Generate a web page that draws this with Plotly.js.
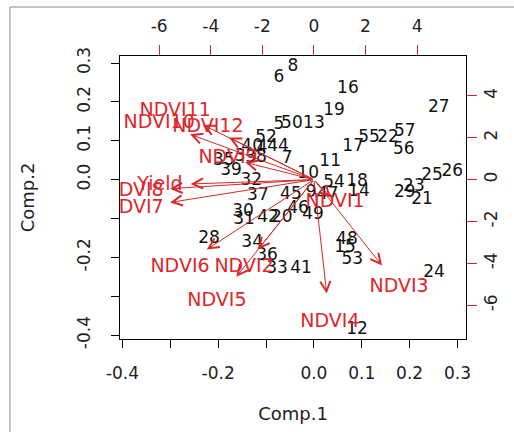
<!DOCTYPE html>
<html>
<head>
<meta charset="utf-8">
<script src="https://cdn.plot.ly/plotly-3.0.1.min.js"></script>
<style>
  html, body { margin: 0; padding: 0; background: #fff; }
  #chart { width: 514px; height: 432px; }
</style>
</head>
<body>
<div id="chart"></div>
<script>
// ---- observation scores (Comp.1, Comp.2) ----
const obsLabels = ["6","8","16","19","27","5","50","13","55","22","57","56","17","11","26","25","54","18","14","23","29","21","24","48","15","53","12","41","33","36","34","28","30","31","42","20","46","49","37","45","9","47","32","10","39","7","35","3","38","40","44","52","4"];
const comp1 = [-0.073,-0.044,0.071,0.042,0.261,-0.073,-0.046,0.000,0.115,0.155,0.190,0.188,0.082,0.034,0.289,0.247,0.042,0.090,0.094,0.209,0.190,0.226,0.251,0.069,0.065,0.080,0.090,-0.027,-0.077,-0.098,-0.129,-0.219,-0.148,-0.146,-0.096,-0.067,-0.033,-0.002,-0.117,-0.048,-0.006,0.029,-0.131,-0.012,-0.173,-0.056,-0.188,-0.154,-0.121,-0.129,-0.075,-0.100,-0.108];
const comp2 = [0.262,0.290,0.234,0.177,0.184,0.141,0.143,0.143,0.107,0.107,0.123,0.076,0.084,0.045,0.020,0.009,-0.009,-0.006,-0.032,-0.019,-0.035,-0.053,-0.240,-0.155,-0.176,-0.207,-0.387,-0.230,-0.230,-0.197,-0.163,-0.153,-0.083,-0.104,-0.099,-0.099,-0.076,-0.091,-0.042,-0.040,-0.035,-0.040,-0.004,0.014,0.022,0.053,0.048,0.058,0.056,0.084,0.084,0.107,0.081];

// ---- variable loadings (top / right axes) ----
const varNames = ["Yield","NDVI8","NDVI7","NDVI6","NDVI2","NDVI5","NDVI4","NDVI3","NDVI1","NDVI11","NDVI10","NDVI12","NDVI9"];
const load1 = [-5.97,-6.97,-6.97,-5.19,-2.71,-3.76,0.62,3.30,0.82,-5.38,-6.00,-4.11,-3.33];
const load2 = [-0.26,-0.54,-1.36,-4.17,-4.17,-5.80,-6.80,-5.13,-1.07,3.27,2.70,2.51,1.03];
const arrowScale = 0.8; // R biplot draws arrows to 0.8 x loading

// ---- ticks ----
const scoreTickVals = [-0.4,-0.3,-0.2,-0.1,0.0,0.1,0.2,0.3];
const xScoreTickText = ["-0.4","","-0.2","","0.0","0.1","0.2","0.3"];
const yScoreTickText = ["-0.4","","-0.2","","0.0","0.1","0.2","0.3"];
const loadTickVals = [-6,-4,-2,0,2,4];
const loadTickText = ["-6","-4","-2","0","2","4"];

const FONT = "DejaVu Sans, Arial, sans-serif";
const RED = "#e0262b";
const ARROW = "#d42a2a";
const DARK = "#222222";

const traces = [
  {
    type: "scatter", mode: "text",
    x: comp1, y: comp2, text: obsLabels,
    textposition: "middle center",
    textfont: {family: FONT, size: 17, color: "#111111"},
    hoverinfo: "none", cliponaxis: true, showlegend: false,
    xaxis: "x", yaxis: "y"
  },
  {
    type: "scatter", mode: "text",
    x: load1, y: load2, text: varNames,
    textposition: "middle center",
    textfont: {family: FONT, size: 19, color: RED},
    hoverinfo: "none", cliponaxis: true, showlegend: false,
    xaxis: "x2", yaxis: "y2"
  }
];

const annotations = varNames.map((n, i) => ({
  xref: "x2", yref: "y2", axref: "x2", ayref: "y2",
  x: load1[i] * arrowScale, y: load2[i] * arrowScale,
  ax: 0, ay: 0,
  text: "", showarrow: true,
  arrowhead: 5, arrowsize: 2, arrowwidth: 1, arrowcolor: ARROW,
  standoff: 0, startstandoff: 0
}));

// figure frame (paper coordinates relative to plot area 120..466 x 56..339)
const L = 120, R = 466, T = 56, B = 339;
const px = v => (v - L) / (R - L);
const py = v => (B - v) / (B - T);
const shapes = [
  {type: "line", xref: "paper", yref: "paper", x0: px(10), x1: px(520), y0: py(7), y1: py(7), line: {color: "#8a8a8a", width: 1}},
  {type: "line", xref: "paper", yref: "paper", x0: px(10), x1: px(10), y0: py(7), y1: py(440), line: {color: "#8a8a8a", width: 1}}
];

const layout = {
  width: 514, height: 432,
  margin: {l: L, r: 514 - R, t: T, b: 432 - B, pad: 0},
  paper_bgcolor: "#ffffff", plot_bgcolor: "#ffffff",
  showlegend: false,
  font: {family: FONT, color: DARK},
  xaxis: {
    range: [-0.4052, 0.3178],
    tickmode: "array", tickvals: scoreTickVals, ticktext: xScoreTickText,
    ticks: "outside", ticklen: 8, tickwidth: 1, tickcolor: "#000",
    showline: true, linecolor: "#000", linewidth: 1, mirror: true,
    showgrid: false, zeroline: false,
    tickfont: {family: FONT, size: 17, color: DARK},
    ticklabelstandoff: 11,
    title: {text: "Comp.1", font: {family: FONT, size: 18, color: DARK}, standoff: 24},
    automargin: false, fixedrange: true
  },
  yaxis: {
    range: [-0.410, 0.318],
    tickmode: "array", tickvals: scoreTickVals, ticktext: yScoreTickText,
    tickangle: -90,
    ticks: "outside", ticklen: 8, tickwidth: 1, tickcolor: "#000",
    showline: true, linecolor: "#000", linewidth: 1, mirror: true,
    showgrid: false, zeroline: false,
    tickfont: {family: FONT, size: 17, color: DARK},
    ticklabelstandoff: 14,
    title: {text: "Comp.2", font: {family: FONT, size: 18, color: DARK}, standoff: 34},
    automargin: false, fixedrange: true
  },
  xaxis2: {
    overlaying: "x", side: "top", anchor: "y",
    range: [-7.516, 5.895],
    tickmode: "array", tickvals: loadTickVals, ticktext: loadTickText,
    ticks: "outside", ticklen: 10, tickwidth: 1, tickcolor: RED,
    showline: false, showgrid: false, zeroline: false,
    tickfont: {family: FONT, size: 17, color: DARK},
    ticklabelstandoff: 6,
    automargin: false, fixedrange: true
  },
  yaxis2: {
    overlaying: "y", side: "right", anchor: "x",
    range: [-7.606, 5.899],
    tickmode: "array", tickvals: loadTickVals, ticktext: loadTickText,
    tickangle: -90,
    ticks: "outside", ticklen: 10, tickwidth: 1, tickcolor: RED,
    showline: false, showgrid: false, zeroline: false,
    tickfont: {family: FONT, size: 17, color: DARK},
    ticklabelstandoff: 0,
    automargin: false, fixedrange: true
  },
  annotations: annotations,
  shapes: shapes
};

Plotly.newPlot("chart", traces, layout, {displayModeBar: false, staticPlot: true});
</script>
</body>
</html>
